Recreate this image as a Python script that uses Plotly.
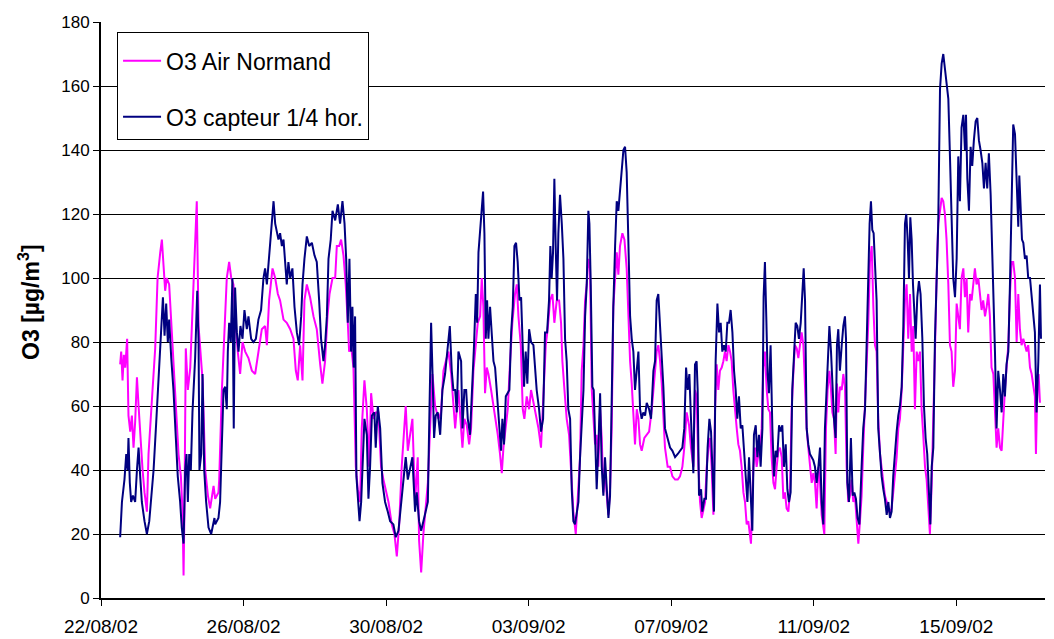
import pandas as pd
import plotly.graph_objects as go

START = pd.Timestamp("2002-08-22 00:00")

# ---- O3 Air Normand (hours since 22/08/02 00:00, µg/m3) ----
hours_air = [
    12.9, 13.6, 14.5, 15.4, 16.3, 17.6, 18.5, 19.7, 20.8, 21.9, 23.0, 24.2, 25.3, 26.4, 28.0, 29.3, 30.9, 32.0, 33.1, 34.7,
    36.5, 38.1, 39.9, 41.0, 42.1, 43.2, 44.3, 45.9, 47.7, 49.3, 50.6, 52.2, 53.8, 54.9, 55.6, 56.2, 57.1, 58.5, 60.1, 61.6,
    63.4, 64.5, 65.7, 66.8, 68.4, 70.2, 72.0, 73.5, 75.8,
    76.9, 79.1, 79.6, 81.4, 83.2, 84.7, 86.3, 87.7, 89.2, 90.3, 92.1, 93.7, 95.3, 97.1, 99.3, 101.6, 103.8, 106.0, 108.3, 110.5,
    111.7, 113.2, 115.5, 117.3, 119.1, 120.6, 122.9, 125.1, 127.4, 129.6, 131.2, 132.5, 134.1, 135.7, 137.0, 138.6, 140.8, 143.1, 145.3, 147.6,
    149.1, 150.9, 152.5, 153.9, 155.9,
    157.7, 158.8, 160.4, 161.7, 163.3, 164.8, 166.2, 167.1, 168.4, 170.0, 171.6, 172.9, 174.5, 175.6, 177.4, 179.0, 180.6, 181.9, 183.5, 185.0,
    186.8, 188.6, 190.2, 191.8, 193.6, 195.8, 197.6, 199.2, 200.8, 202.5, 204.1, 205.2, 206.6, 208.2, 209.7, 211.5, 213.3, 214.2, 215.6, 217.1,
    218.7, 220.1, 221.6, 223.2, 225.0, 227.2, 229.0, 230.6, 232.2, 234.0, 235.8,
    238.5, 240.7, 241.8, 243.4, 244.7, 246.3, 247.9, 249.2, 250.8, 252.4, 253.7, 255.3, 256.4, 257.5, 258.6, 259.8, 260.9, 262.7, 264.3, 265.8,
    267.2, 268.7, 269.9, 271.0, 272.6, 273.9, 275.5, 277.0, 278.8, 280.0, 281.1, 282.7, 284.0, 285.1, 286.7, 288.3, 289.6, 291.2, 292.8, 294.6,
    296.3, 297.9, 299.5, 300.8, 302.4, 304.0, 305.3, 306.9, 308.5, 309.8, 310.7, 312.1, 313.6, 315.2, 316.5, 318.1, 319.7,
    321.5, 322.6, 323.7, 324.9, 326.0, 327.1, 328.2, 329.3, 330.5, 331.6, 332.7, 333.8, 334.9, 336.1, 337.2, 338.3, 339.4, 340.6, 341.7, 342.8,
    343.9, 345.0, 346.2, 347.3, 348.4, 349.5, 351.1, 352.5, 354.0, 355.1, 356.3, 357.4, 358.5, 359.6, 360.8, 361.9, 363.0, 364.1, 365.9, 367.5,
    369.1, 370.9, 372.6, 374.2, 375.3, 376.5, 377.6, 378.7, 379.8, 381.6, 383.2, 384.8, 386.6, 388.4, 389.9, 391.5, 392.8, 394.4, 396.0, 397.3,
    398.9,
    400.0, 401.1, 402.3, 403.4, 404.5, 405.6, 406.8, 407.9, 409.0, 410.1, 411.2, 412.4, 413.5, 414.6, 415.7, 416.8, 418.0, 419.1, 420.2, 421.3,
    422.5, 423.6, 424.7, 425.8, 426.9, 428.1, 429.2, 430.3, 431.4, 432.6, 433.7, 434.8, 435.9, 437.7, 439.3, 440.4, 441.5, 442.7, 443.8, 444.9,
    446.0, 447.1, 448.3, 449.4, 450.5, 451.6, 452.8, 453.9, 455.0, 456.1, 457.2, 458.4, 459.5, 460.6, 461.7, 462.9, 464.0, 465.1, 466.2, 467.3,
    468.5, 469.6, 470.7, 471.8, 473.0, 474.1, 475.2, 476.3, 477.4, 478.6, 479.7,
    480.8, 481.9, 483.1, 484.2, 485.3, 487.1, 488.2, 489.3, 490.5, 491.6, 492.5, 493.6, 494.7, 495.6, 496.5, 497.6, 498.8, 499.9, 501.0, 502.1,
    503.2, 504.4, 505.5, 506.6, 507.7, 508.9, 510.0, 511.1, 512.2, 513.3, 514.5, 515.6, 516.7, 517.8, 519.0, 520.1, 521.2, 522.3, 523.4, 524.6,
    525.7, 526.8, 527.9, 529.1, 530.2, 531.3, 532.4, 533.5, 534.7, 535.8, 536.9, 538.0, 539.2, 540.3, 541.4, 542.5, 543.6, 544.8, 545.9, 547.0,
    548.1, 549.3, 550.4, 551.5, 552.6, 553.7, 554.9, 556.0, 557.1, 558.2,
    559.4, 560.5, 561.6, 562.7, 563.8, 565.0, 566.1, 567.2, 568.3, 569.4, 570.6, 571.7, 572.8, 573.9, 575.1, 576.2, 577.3, 578.4, 579.5, 580.7,
    581.8, 582.9, 584.0, 585.2, 586.3, 587.4, 588.5, 589.6, 590.8, 591.9, 593.0, 594.1, 595.3, 596.4, 597.5, 598.6, 599.7, 600.9, 602.0, 603.1,
    604.2, 605.4, 606.5, 607.6, 608.7, 609.8, 611.0, 612.1, 613.2, 614.3, 615.5, 616.6, 617.7, 618.8, 619.9, 621.1, 622.2, 623.3, 624.4, 625.6,
    626.7, 627.8, 628.9, 629.6, 630.5, 631.4, 632.3,
]
o3_air = [
    73, 77, 68, 76, 72, 81, 57, 52, 57, 47, 55, 69, 60, 50, 40, 33, 27, 45, 52, 65,
    78, 100, 108, 112, 104, 96, 100, 98, 83, 70, 60, 45, 38, 27, 7, 28, 78, 65, 72, 88,
    110, 124, 85, 78, 68, 40, 32, 28, 35,
    31, 33, 37, 65, 84, 100, 105, 100, 98, 88, 77, 70, 80, 77, 75, 71, 70, 77, 84, 85,
    79, 93, 103, 100, 95, 93, 87, 86, 84, 81, 71, 68, 79, 68, 93, 98, 94, 88, 84, 73,
    67, 74, 88, 95, 100,
    100, 110, 110, 112, 107, 98, 86, 77, 79, 72, 41, 34, 30, 53, 68, 59, 41, 64, 56, 58,
    58, 41, 37, 34, 30, 23, 20, 13, 23, 41, 53, 60, 46, 51, 56, 30, 44, 18, 8, 20,
    30, 36, 53, 70, 60, 56, 58, 71, 74, 77, 70,
    53, 65, 58, 47, 56, 54, 48, 53, 71, 80, 86, 88, 100, 91, 64, 72, 70, 65, 60, 56,
    51, 45, 39, 47, 53, 59, 74, 86, 95, 98, 88, 79, 59, 56, 63, 59, 65, 61, 58, 53,
    47, 65, 79, 84, 93, 95, 86, 93, 93, 86, 74, 65, 56, 51, 41, 27, 20,
    34, 44, 71, 79, 93, 98, 106, 103, 65, 56, 48, 51, 41, 59, 50, 33, 41, 32, 26, 34,
    53, 91, 100, 108, 101, 110, 114, 112, 103, 86, 74, 67, 59, 48, 59, 56, 48, 46, 50, 51,
    52, 59, 68, 77, 79, 74, 67, 56, 47, 41, 41, 38, 37, 37, 38, 41, 47, 58, 54, 47,
    41,
    65, 63, 41, 30, 25, 27, 30, 41, 47, 50, 41, 26, 59, 73, 65, 71, 72, 74, 77, 74,
    79, 77, 74, 65, 58, 53, 48, 46, 41, 33, 30, 23, 24, 17, 41, 47, 41, 45, 46, 53,
    72, 77, 65, 59, 58, 44, 36, 34, 41, 46, 47, 44, 31, 33, 28, 27, 34, 59, 70, 79,
    78, 75, 79, 83, 79, 65, 53, 47, 41, 36, 39,
    36, 28, 41, 36, 26, 20, 53, 65, 71, 65, 58, 56, 45, 67, 58, 66, 65, 70, 66, 41,
    30, 32, 37, 30, 32, 24, 17, 24, 32, 47, 59, 71, 86, 105, 110, 91, 79, 77, 56, 45,
    40, 36, 32, 30, 27, 27, 28, 33, 38, 44, 53, 56, 65, 80, 93, 98, 81, 95, 77, 85,
    59, 77, 74, 77, 59, 51, 41, 37, 26, 20,
    36, 53, 77, 100, 117, 121, 125, 124, 120, 112, 98, 79, 77, 66, 71, 92, 88, 84, 100, 103,
    94, 100, 83, 95, 93, 98, 103, 98, 100, 95, 90, 93, 88, 91, 95, 88, 72, 70, 59, 47,
    53, 47, 46, 58, 65, 72, 79, 95, 105, 105, 100, 80, 95, 84, 79, 81, 79, 77, 79, 72,
    70, 66, 63, 45, 65, 70, 61,
]

# ---- O3 capteur 1/4 hor. ----
hours_capteur = [
    12.9, 14.1, 15.8, 17.0, 17.9, 18.5, 19.4, 20.3, 21.5, 23.0, 24.2, 25.3, 26.4, 27.5, 29.3, 30.9, 32.5, 33.8, 35.4, 37.2,
    38.7, 40.3, 41.7, 42.8, 43.9, 45.0, 45.9, 47.3, 48.8, 50.4, 51.7, 53.3, 54.4, 55.6, 56.7, 57.6, 58.5, 59.4, 60.5, 61.6,
    63.4, 64.8, 65.7, 66.3, 67.5, 68.4, 69.5, 70.8, 72.4, 74.2, 76.4,
    76.9, 79.1, 80.2, 81.4, 82.5, 83.6, 84.7, 85.4, 86.3, 87.4, 88.5, 89.4, 90.3, 91.5, 92.6, 93.9, 95.3, 96.6, 98.2, 99.3,
    101.1, 102.7, 104.3, 106.0, 107.8, 109.4, 110.5, 111.7, 113.2, 114.6, 116.2, 117.3, 118.4, 119.5, 120.6, 121.8, 122.9, 124.0, 125.1, 126.2,
    127.4, 128.9, 130.3, 131.9, 133.4, 134.8, 135.7, 137.0, 138.6, 140.2, 142.0, 143.8, 145.3, 146.9, 148.2, 149.8, 150.9, 152.1, 153.2, 154.7,
    155.9,
    157.7, 159.5, 161.0, 162.6, 164.0, 165.1, 166.2, 167.3, 168.4, 169.3, 170.2, 171.1, 172.0, 172.9, 174.1, 175.2, 176.3, 177.4, 179.0, 180.1,
    181.2, 182.4, 184.1, 185.0, 186.4, 188.0, 189.5, 191.3, 193.1, 194.7, 196.9, 198.5, 200.3, 202.1, 203.7, 205.2, 206.6, 208.2, 209.7, 211.5,
    212.6, 214.2, 215.6, 217.1, 218.7, 220.1, 221.2, 222.3, 223.2, 224.3, 225.4, 226.8, 228.4, 229.9, 231.7, 233.3, 234.9, 236.2, 237.3,
    238.5, 239.6, 240.7, 242.5, 243.4, 244.7, 245.9, 247.0, 248.5, 250.1, 251.2, 252.4, 253.3, 254.2, 255.3, 256.4, 257.3, 258.2, 259.1, 260.0,
    260.9, 262.0, 263.1, 264.3, 265.4, 266.5, 268.1, 269.4, 270.3, 271.4, 272.6, 273.9, 275.0, 276.2, 277.3, 278.4, 279.5, 280.6, 281.8, 282.9,
    284.0, 284.9, 286.0, 287.1, 288.3, 289.6, 291.2, 292.3, 293.4, 295.0, 296.3, 297.7, 299.0, 300.4, 301.7, 302.6, 303.5, 304.4, 305.3, 306.2,
    307.1, 308.0, 309.1, 310.3, 311.4, 312.5, 313.6, 314.7, 315.9, 317.0, 318.1, 319.2,
    320.4, 321.5, 322.6, 323.7, 324.9, 326.0, 327.1, 328.2, 328.9, 329.8, 330.9, 331.8, 332.7, 333.8, 334.9, 336.1, 337.2, 338.3, 339.4, 340.6,
    341.7, 342.8, 343.9, 345.0, 346.2, 347.3, 348.4, 349.5, 350.7, 351.8, 352.9, 354.0, 355.1, 356.3, 357.4, 358.5, 359.6, 360.8, 361.9, 363.0,
    364.1, 365.2, 366.4, 367.5, 369.1, 370.4, 372.0, 373.1, 374.2, 375.3, 376.5, 377.6, 378.7, 379.8, 381.6, 383.2, 384.8, 386.6, 388.4, 389.9,
    391.5, 392.8, 394.0, 395.1, 396.2, 397.3, 398.9,
    400.0, 401.1, 401.8, 402.7, 404.1, 404.9, 406.3, 407.4, 408.5, 409.7, 410.8, 411.7, 412.8, 413.9, 415.1, 416.2, 417.3, 418.4, 419.5, 420.7,
    421.8, 422.9, 424.0, 425.2, 426.3, 427.4, 428.5, 429.6, 430.8, 431.9, 433.0, 434.1, 435.3, 436.4, 437.5, 438.6, 439.7, 440.9, 442.0, 443.1,
    444.2, 445.4, 446.2, 447.1, 448.0, 448.9, 449.8, 450.9, 452.1, 453.2, 454.3, 455.4, 456.6, 457.7, 458.8, 459.9, 461.1, 462.2, 463.3, 464.4,
    465.5, 466.7, 467.8, 468.9, 470.0, 471.2, 472.3, 473.2, 474.1, 475.2, 476.3, 477.4, 478.6, 479.7, 480.8,
    481.9, 483.1, 484.2, 485.3, 486.4, 487.5, 488.7, 489.8, 490.5, 491.6, 492.5, 493.6, 494.7, 495.6, 496.5, 497.6, 498.8, 499.9, 501.0, 501.7,
    502.6, 503.7, 505.0, 506.2, 507.3, 508.4, 509.5, 510.7, 512.2, 513.3, 514.5, 515.6, 516.7, 517.6, 518.5, 519.4, 520.3, 521.2, 522.3, 523.4,
    524.6, 525.7, 526.8, 527.9, 529.1, 530.2, 531.3, 532.4, 533.5, 534.7, 535.8, 536.9, 538.0, 539.2, 540.3, 541.4, 542.3, 543.2, 544.1, 545.0,
    545.9, 546.8, 547.7, 548.6, 549.7, 550.8, 551.9, 553.1, 554.2, 555.3, 556.4, 557.6, 558.5,
    559.4, 560.5, 561.6, 562.7, 563.8, 565.0, 566.1, 567.2, 568.3, 569.4, 570.6, 571.7, 572.8, 573.9, 575.1, 576.2, 577.3, 578.4, 579.5, 580.7,
    581.8, 582.5, 583.4, 584.5, 585.6, 586.7, 587.8, 589.0, 590.1, 591.2, 592.3, 593.5, 594.6, 595.7, 596.8, 597.9, 599.1, 600.0, 600.9, 602.0,
    603.1, 604.2, 605.4, 606.5, 607.6, 608.7, 609.8, 611.0, 612.1, 613.2, 614.3, 615.5, 616.6, 617.7, 618.4, 619.3, 620.2, 621.1, 622.2, 623.3,
    624.4, 625.6, 626.7, 627.8, 628.9, 630.0, 631.2, 632.3, 633.0,
]
o3_capteur = [
    19, 30, 37, 45, 40, 50, 36, 30, 32, 30, 40, 47, 38, 30, 24, 20, 24, 32, 40, 55,
    68, 80, 94, 82, 92, 80, 87, 75, 65, 50, 38, 30, 22, 17, 40, 45, 30, 45, 40, 58,
    75, 96, 80, 40, 45, 70, 40, 30, 22, 20, 25,
    23, 25, 30, 53, 65, 66, 59, 77, 86, 80, 100, 53, 97, 83, 77, 85, 81, 90, 84, 88,
    81, 80, 81, 87, 90, 100, 103, 98, 107, 114, 124, 117, 114, 112, 114, 110, 112, 103, 98, 105,
    100, 103, 91, 83, 79, 88, 98, 106, 113, 110, 111, 107, 105, 93, 81, 74, 79, 88, 106, 112,
    121,
    118, 123, 117, 124, 117, 106, 86, 106, 77, 91, 72, 88, 38, 32, 24, 30, 41, 56, 51, 31,
    41, 57, 58, 47, 60, 53, 36, 30, 27, 24, 23, 19, 21, 30, 36, 44, 37, 41, 44, 27,
    33, 24, 21, 24, 27, 30, 59, 86, 71, 50, 57, 58, 51, 65, 70, 77, 85, 71, 65,
    65, 58, 77, 74, 53, 65, 65, 56, 51, 65, 79, 95, 86, 108, 116, 121, 127, 114, 81, 93,
    81, 91, 83, 74, 72, 65, 53, 46, 56, 48, 63, 64, 65, 83, 91, 110, 111, 105, 93, 94,
    79, 66, 77, 67, 84, 80, 79, 72, 65, 59, 52, 56, 83, 83, 93, 110, 100, 108, 131, 110,
    93, 114, 126, 117, 106, 81, 74, 59, 56, 34, 24, 23,
    26, 30, 44, 56, 65, 88, 98, 121, 117, 98, 66, 65, 47, 34, 47, 64, 41, 32, 44, 33,
    25, 32, 65, 91, 110, 124, 121, 128, 136, 140, 141, 133, 112, 88, 81, 77, 65, 72, 77, 59,
    56, 58, 57, 61, 59, 56, 71, 74, 93, 95, 86, 77, 66, 53, 50, 47, 46, 44, 45, 46,
    47, 53, 72, 65, 70, 56, 39,
    73, 74, 65, 32, 34, 27, 31, 31, 47, 56, 52, 41, 27, 74, 92, 83, 86, 77, 79, 77,
    86, 86, 90, 83, 71, 65, 56, 63, 53, 54, 46, 39, 30, 44, 30, 21, 51, 54, 44, 51,
    41, 53, 94, 105, 88, 70, 64, 79, 53, 38, 46, 44, 54, 52, 54, 41, 48, 34, 30, 33,
    65, 77, 86, 85, 81, 86, 95, 103, 93, 53, 48, 45, 44, 43, 41,
    36, 41, 47, 30, 23, 53, 64, 77, 85, 77, 65, 56, 50, 79, 84, 71, 79, 85, 88, 81,
    36, 30, 50, 32, 33, 31, 25, 23, 41, 53, 59, 79, 98, 117, 124, 115, 114, 106, 93, 53,
    44, 38, 34, 31, 26, 30, 25, 27, 38, 46, 52, 57, 60, 66, 85, 117, 120, 112, 100, 119,
    112, 98, 88, 81, 94, 99, 95, 81, 60, 50, 45, 30, 23,
    41, 47, 81, 100, 117, 159, 167, 170, 165, 161, 156, 138, 114, 100, 94, 106, 138, 124, 147, 151,
    140, 151, 131, 121, 141, 135, 143, 149, 150, 143, 140, 136, 128, 136, 128, 139, 126, 112, 98, 77,
    53, 71, 65, 58, 70, 63, 73, 77, 98, 124, 148, 145, 133, 116, 132, 121, 112, 111, 106, 107,
    100, 100, 94, 90, 83, 58, 74, 98, 81,
]

assert len(hours_air) == len(o3_air), (len(hours_air), len(o3_air))
assert len(hours_capteur) == len(o3_capteur), (len(hours_capteur), len(o3_capteur))

y_ticks = [0, 20, 40, 60, 80, 100, 120, 140, 160, 180]

t_air = START + pd.to_timedelta(hours_air, unit="h")
t_cap = START + pd.to_timedelta(hours_capteur, unit="h")

fig = go.Figure()
fig.add_trace(go.Scatter(
    x=t_air, y=o3_air, mode="lines", name="O3 Air Normand",
    line=dict(color="#FF00FF", width=2), legendgroup="a",
))
fig.add_trace(go.Scatter(
    x=t_cap, y=o3_capteur, mode="lines", name="O3 capteur 1/4 hor.",
    line=dict(color="#000080", width=2), legendgroup="b",
))

# the page body adds an 8 px margin, so the figure is 8 px smaller on each side
fig.update_layout(
    width=1046, height=631,
    margin=dict(l=93, r=9, t=14, b=41),
    paper_bgcolor="white", plot_bgcolor="white",
    font=dict(family="Liberation Sans, Arial, sans-serif", color="black"),
    showlegend=True,
    legend=dict(
        x=0.017, y=0.983, xanchor="left", yanchor="top",
        bgcolor="white", bordercolor="black", borderwidth=1,
        font=dict(size=23, family="Liberation Sans, Arial, sans-serif"),
        title=dict(text=" ", font=dict(size=5)),
        tracegroupgap=23, itemwidth=38,
    ),
    xaxis=dict(
        type="date",
        range=[START, START + pd.Timedelta(hours=635.7)],
        tick0=START, dtick=4 * 86400000, tickformat="%d/%m/%y",
        ticks="outside", ticklen=6, tickcolor="black", tickwidth=1,
        showgrid=False, showline=True, linecolor="black", linewidth=2,
        tickfont=dict(family="Liberation Sans, Arial, sans-serif", size=19),
        ticklabelstandoff=4,
        zeroline=False, automargin=False,
    ),
    yaxis=dict(
        range=[0, 180], tickvals=y_ticks,
        ticks="outside", ticklen=6, tickcolor="black", tickwidth=1,
        showgrid=True, gridcolor="black", gridwidth=1,
        showline=True, linecolor="black", linewidth=2,
        tickfont=dict(size=17),
        zeroline=False, automargin=False,
    ),
    annotations=[dict(
        text="<b>O3 [µg/m<sup>3</sup>]</b>",
        xref="paper", yref="paper", x=-0.0763, y=0.514,
        xanchor="center", yanchor="middle", textangle=-90, showarrow=False,
        font=dict(size=23, family="Liberation Sans, Arial, sans-serif"),
    )],
)

fig.write_html("out.html")
